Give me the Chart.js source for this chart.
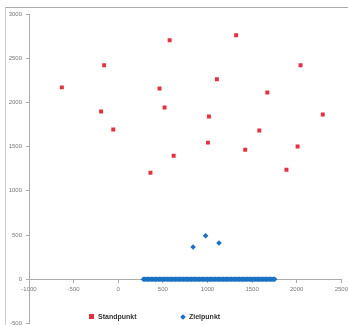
<!DOCTYPE html>
<html>
<head>
<meta charset="utf-8">
<script src="https://cdn.jsdelivr.net/npm/chart.js@4.4.0/dist/chart.umd.min.js"></script>
<style>
  html, body { margin: 0; padding: 0; background: #fff; overflow: hidden; }
  #wrap { position: relative; width: 348px; height: 325px; overflow: hidden; }
  #chart { position: absolute; left: 0; top: 0; }
  #frame { position: absolute; left: 5px; top: 7px; right: 0; bottom: 0; border-top: 1px solid #aaa; border-left: 1px solid #ccc; }
  #legend { position: absolute; top: 313px; left: 0; width: 348px; font: bold 7px "Liberation Sans", Arial, sans-serif; color: #333; }
  #legend span { position: absolute; top: 0; white-space: nowrap; }
  .sq { display: inline-block; width: 5px; height: 5px; background: #e2313f; margin-right: 4px; vertical-align: 0; }
  .dm { display: inline-block; width: 4px; height: 4px; background: #1a72c4; transform: rotate(45deg); margin-right: 4px; vertical-align: 0; }
</style>
</head>
<body>
<div id="wrap">
  <div id="frame"></div>
  <canvas id="chart" width="352" height="331"></canvas>
  <div id="legend">
    <span style="left:89px"><i class="sq"></i>Standpunkt</span>
    <span style="left:181px"><i class="dm"></i>Zielpunkt</span>
  </div>
</div>
<script>
// Standpunkt (red squares)
const standX = [-632, -158, -192, -56, 576, 463, 519, 621, 361, 1016, 1005, 1106, 1321, 1671, 1581, 1423, 2043, 2010, 1885, 2292];
const standY = [2170, 2420, 1897, 1693, 2704, 2158, 1943, 1397, 1204, 1840, 1545, 2261, 2760, 2113, 1681, 1465, 2420, 1500, 1238, 1863];

// Zielpunkt (blue diamonds): three raised points, then the dense row along y = 0
const zielX = [839, 979, 1129,
  282, 297, 312, 327, 342, 357, 372, 387, 402, 417, 432,
  447, 462, 477, 492, 507, 522, 537, 552, 567, 582, 597,
  612, 627, 642, 657, 672, 687, 702, 717, 732, 747, 762,
  777, 792, 807, 822, 837, 852, 867, 882, 897, 912, 927,
  942, 957, 972, 987, 1002, 1017, 1032, 1047, 1062, 1077, 1092,
  1107, 1122, 1137, 1152, 1167, 1182, 1197, 1212, 1227, 1242, 1257,
  1272, 1287, 1302, 1317, 1332, 1347, 1362, 1377, 1392, 1407, 1422,
  1437, 1452, 1467, 1482, 1497, 1512, 1527, 1542, 1557, 1572, 1587,
  1602, 1617, 1632, 1647, 1662, 1677, 1692, 1707, 1722, 1737, 1753];
const zielY = [364, 492, 409,
  0, 0, 0, 0, 0, 0, 0, 0, 0, 0, 0,
  0, 0, 0, 0, 0, 0, 0, 0, 0, 0, 0,
  0, 0, 0, 0, 0, 0, 0, 0, 0, 0, 0,
  0, 0, 0, 0, 0, 0, 0, 0, 0, 0, 0,
  0, 0, 0, 0, 0, 0, 0, 0, 0, 0, 0,
  0, 0, 0, 0, 0, 0, 0, 0, 0, 0, 0,
  0, 0, 0, 0, 0, 0, 0, 0, 0, 0, 0,
  0, 0, 0, 0, 0, 0, 0, 0, 0, 0, 0,
  0, 0, 0, 0, 0, 0, 0, 0, 0, 0, 0];

const xTicks = [-1000, -500, 0, 500, 1000, 1500, 2000, 2500];
const yTicks = [-500, 0, 500, 1000, 1500, 2000, 2500, 3000];

function toPoints(xs, ys) {
  return xs.map((x, i) => ({ x: x, y: ys[i] }));
}

const tickFont = { family: "'Liberation Sans', Arial, sans-serif", size: 6 };

var config = {
  type: "scatter",
  data: {
    datasets: [
      {
        label: "Standpunkt",
        data: toPoints(standX, standY),
        pointStyle: "rect",
        pointRadius: 2.8,
        backgroundColor: "#e2313f",
        borderColor: "#e2313f",
        borderWidth: 0,
      },
      {
        label: "Zielpunkt",
        data: toPoints(zielX, zielY),
        pointStyle: "rectRot",
        pointRadius: 2.8,
        backgroundColor: "#1a72c4",
        borderColor: "#1a72c4",
        borderWidth: 0,
      },
    ],
  },
  options: {
    responsive: false,
    animation: false,
    layout: { padding: { top: 14, right: 4, bottom: 0, left: 0 } },
    plugins: { legend: { display: false }, tooltip: { enabled: false } },
    scales: {
      x: {
        type: "linear",
        position: { y: 0 },
        min: -1000,
        max: 2500,
        afterBuildTicks: (s) => { s.ticks = xTicks.map((v) => ({ value: v })); },
        ticks: { font: tickFont, color: "#777", padding: 4, maxRotation: 0, callback: (v) => String(v) },
        grid: { display: true, drawOnChartArea: false, tickLength: 3, color: "#aaa" },
        border: { color: "#aaa", width: 1 },
      },
      y: {
        type: "linear",
        min: -500,
        max: 3000,
        afterBuildTicks: (s) => { s.ticks = yTicks.map((v) => ({ value: v })); },
        afterFit: (s) => { s.width = 29; },
        ticks: { font: tickFont, color: "#777", padding: 4, callback: (v) => String(v) },
        grid: { display: true, drawOnChartArea: false, tickLength: 3, color: "#aaa" },
        border: { color: "#aaa", width: 1 },
      },
    },
  },
};

new Chart(document.getElementById("chart").getContext("2d"), config);
</script>
</body>
</html>
